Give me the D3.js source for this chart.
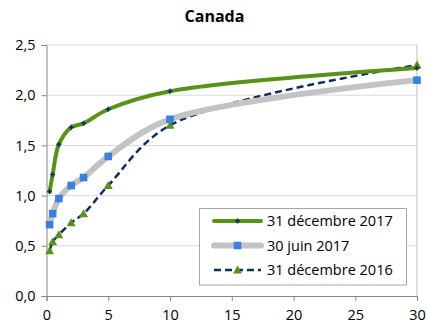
<!DOCTYPE html>
<html>
<head>
<meta charset="utf-8">
<script src="https://cdn.jsdelivr.net/npm/d3@7"></script>
<style>
  html, body { margin: 0; padding: 0; background: #fff; }
  svg { display: block; font-family: "Open Sans", "Liberation Sans", sans-serif; }
</style>
</head>
<body>
<svg id="chart" width="427" height="330"></svg>
<script>
// Canadian government bond yield curves (%), by maturity in years
const maturities = [0.25, 0.5, 1, 2, 3, 5, 10, 30];
const dec2017 = [1.04, 1.21, 1.51, 1.68, 1.72, 1.86, 2.04, 2.27];
const jun2017 = [0.71, 0.82, 0.97, 1.10, 1.18, 1.39, 1.76, 2.15];
const dec2016 = [0.45, 0.54, 0.61, 0.73, 0.82, 1.10, 1.70, 2.30];
const seriesNames = ["31 décembre 2017", "30 juin 2017", "31 décembre 2016"];
const xTicks = [0, 5, 10, 15, 20, 25, 30];
const yTicks = [0, 0.5, 1.0, 1.5, 2.0, 2.5];
const chartTitle = "Canada";

const svg = d3.select("#chart");
const x = d3.scaleLinear().domain([0, 30]).range([46.5, 417]);
const y = d3.scaleLinear().domain([0, 2.5]).range([296, 45]);
const fmt = v => d3.format(".1f")(v).replace(".", ",");

svg.append("text")
  .attr("x", 214.5).attr("y", 22)
  .attr("text-anchor", "middle")
  .attr("font-weight", "bold").attr("font-size", 16)
  .attr("fill", "#000")
  .text(chartTitle);

// horizontal gridlines
svg.append("g").selectAll("line")
  .data(yTicks.filter(d => d > 0))
  .join("line")
  .attr("x1", x(0)).attr("x2", x(30))
  .attr("y1", d => y(d)).attr("y2", d => y(d))
  .attr("stroke", "#d9d9d9").attr("stroke-width", 1);

// right edge of the plot area
svg.append("line")
  .attr("x1", x(30)).attr("x2", x(30))
  .attr("y1", y(2.5)).attr("y2", y(0))
  .attr("stroke", "#bfbfbf").attr("stroke-width", 1);

// axes
const yAxis = svg.append("g")
  .attr("transform", `translate(${x(0)},0)`)
  .call(d3.axisLeft(y).tickValues(yTicks).tickFormat(fmt).tickSize(5).tickPadding(6));
const xAxis = svg.append("g")
  .attr("transform", `translate(0,${y(0)})`)
  .call(d3.axisBottom(x).tickValues(xTicks).tickFormat(d3.format("d")).tickSize(5).tickPadding(9));
[yAxis, xAxis].forEach(g => {
  g.select(".domain").attr("stroke", "#868686");
  g.selectAll(".tick line").attr("stroke", "#868686");
  g.selectAll(".tick text").attr("font-size", 14.5).attr("fill", "#000")
    .attr("font-family", "\"Open Sans\", sans-serif");
});

const curve = d3.curveCatmullRom.alpha(0.5);
const line = d3.line().x(d => x(d[0])).y(d => y(d[1])).curve(curve);
const pts = vals => maturities.map((m, i) => [m, vals[i]]);

const styles = [
  { vals: dec2017, stroke: "#5b9118", width: 4, dash: null, marker: "plus" },
  { vals: jun2017, stroke: "#c3c3c3", width: 6, dash: null, marker: "square" },
  { vals: dec2016, stroke: "#0e2f5c", width: 2.5, dash: "7,4", marker: "triangle" }
];

function drawMarker(g, kind, cx, cy) {
  if (kind === "square") {
    g.append("rect").attr("x", cx - 3.8).attr("y", cy - 3.8)
      .attr("width", 7.6).attr("height", 7.6).attr("fill", "#3c7fdc");
  } else if (kind === "triangle") {
    g.append("path")
      .attr("d", `M${cx},${cy - 4.5}L${cx + 4.5},${cy + 3.5}L${cx - 4.5},${cy + 3.5}Z`)
      .attr("fill", "#5b9118");
  } else {
    g.append("path")
      .attr("d", `M${cx - 2.5},${cy}H${cx + 2.5}M${cx},${cy - 2.5}V${cy + 2.5}`)
      .attr("stroke", "#0e2f5c").attr("stroke-width", 1.6);
  }
}

// draw back to front so the newest curve sits on top
[2, 1, 0].forEach(i => {
  const s = styles[i];
  const g = svg.append("g");
  g.append("path")
    .attr("d", line(pts(s.vals)))
    .attr("fill", "none")
    .attr("stroke", s.stroke)
    .attr("stroke-width", s.width)
    .attr("stroke-dasharray", s.dash)
    .attr("stroke-linecap", s.dash ? "butt" : "round");
  pts(s.vals).forEach(p => drawMarker(g, s.marker, x(p[0]), y(p[1])));
});

// legend
const lg = svg.append("g");
lg.append("rect")
  .attr("x", 199.5).attr("y", 208.5).attr("width", 207).attr("height", 76.5)
  .attr("fill", "#fff").attr("stroke", "#a6a6a6").attr("stroke-width", 1);
const rowY = [221, 245.5, 270];
styles.forEach((s, i) => {
  lg.append("line")
    .attr("x1", 214).attr("x2", 261).attr("y1", rowY[i]).attr("y2", rowY[i])
    .attr("stroke", s.stroke).attr("stroke-width", s.width)
    .attr("stroke-dasharray", s.dash)
    .attr("stroke-linecap", s.dash ? "butt" : "round");
  drawMarker(lg, s.marker, 237.5, rowY[i]);
  lg.append("text")
    .attr("x", 267).attr("y", rowY[i]).attr("dy", "0.35em")
    .attr("font-size", 14.5).attr("fill", "#000")
    .text(seriesNames[i]);
});
</script>
</body>
</html>
